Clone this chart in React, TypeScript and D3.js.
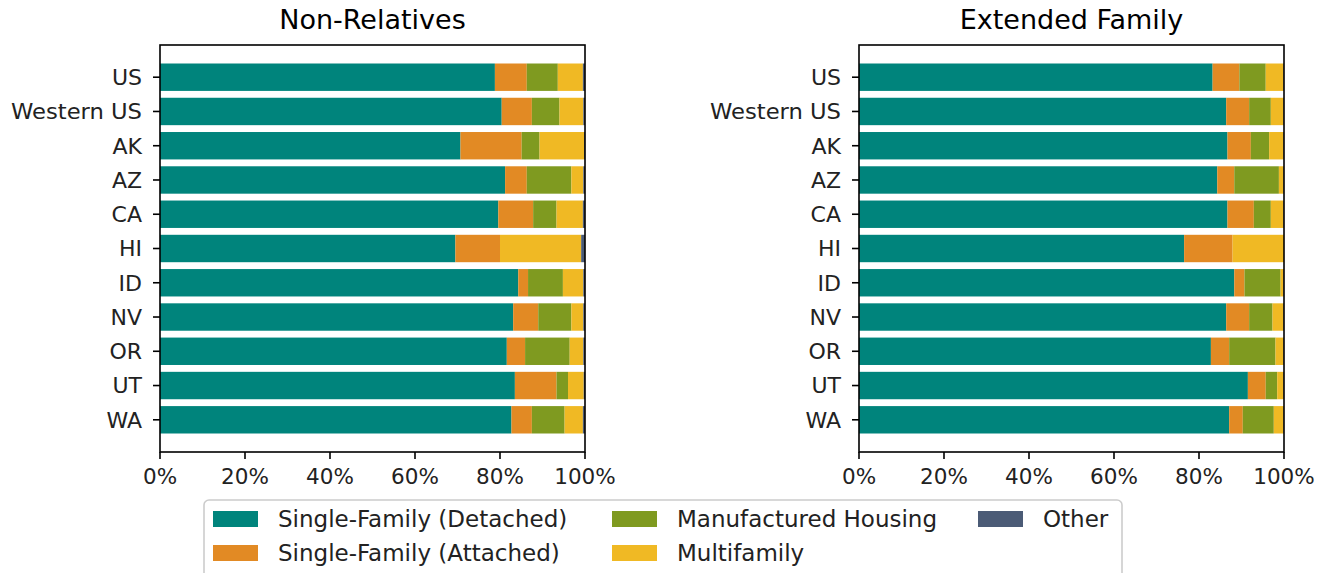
import * as d3 from "d3";

const regions = ["US", "Western US", "AK", "AZ", "CA", "HI", "ID", "NV", "OR", "UT", "WA"];
const seriesNames = [
  "Single-Family (Detached)",
  "Single-Family (Attached)",
  "Manufactured Housing",
  "Multifamily",
  "Other",
];
const seriesColors = ["#00847c", "#e28a24", "#7f9a20", "#f0b924", "#4b5b76"];
const xTicks = [0, 20, 40, 60, 80, 100];

// Non-Relatives, percent of households per housing type
const nonRelDetached = [78.8, 80.4, 70.7, 81.2, 79.6, 69.5, 84.3, 83.1, 81.6, 83.5, 82.7];
const nonRelAttached = [7.5, 7.1, 14.4, 5.1, 8.2, 10.5, 2.3, 5.9, 4.3, 9.8, 4.8];
const nonRelManufactured = [7.3, 6.5, 4.2, 10.5, 5.5, 0.0, 8.2, 7.8, 10.5, 2.7, 7.7];
const nonRelMulti = [5.9, 5.6, 10.5, 2.8, 6.2, 19.1, 4.8, 2.8, 3.2, 3.7, 4.3];
const nonRelOther = [0.5, 0.4, 0.2, 0.4, 0.5, 0.9, 0.4, 0.4, 0.4, 0.3, 0.5];

// Extended Family
const extDetached = [83.2, 86.4, 86.7, 84.3, 86.7, 76.5, 88.3, 86.4, 82.8, 91.5, 87.1];
const extAttached = [6.3, 5.4, 5.5, 4.0, 6.2, 11.4, 2.4, 5.4, 4.3, 4.2, 3.2];
const extManufactured = [6.2, 5.1, 4.3, 10.5, 4.0, 0.0, 8.5, 5.5, 10.9, 2.7, 7.3];
const extMulti = [4.2, 3.0, 3.4, 1.1, 3.0, 12.1, 0.7, 2.6, 1.9, 1.5, 2.3];
const extOther = [0.1, 0.1, 0.1, 0.1, 0.1, 0.0, 0.1, 0.1, 0.1, 0.1, 0.1];

const panels = [
  { title: "Non-Relatives", left: 160, series: [nonRelDetached, nonRelAttached, nonRelManufactured, nonRelMulti, nonRelOther] },
  { title: "Extended Family", left: 859, series: [extDetached, extAttached, extManufactured, extMulti, extOther] },
];

const FONT = "DejaVu Sans, sans-serif";
const plotW = 425;
const top = 45;
const bottom = 452;

function Panel({ title, left, series }: { title: string; left: number; series: number[][] }) {
  const x = d3.scaleLinear().domain([0, 100]).range([left, left + plotW]);
  const y = d3.scaleLinear().domain([-0.94, regions.length - 1 + 0.94]).range([top, bottom]);
  const bh = y(0.8) - y(0);
  const stack = d3.stack<number>().keys(series.map((_, i) => String(i))).value((d, k) => series[+k][d]);
  const stacked = stack(regions.map((_, i) => i));

  return (
    <g>
      <text x={left + plotW / 2} y={29} textAnchor="middle" fontSize={27} fontFamily={FONT} fill="#000">
        {title}
      </text>
      {stacked.map((layer, si) => (
        <g key={si} fill={seriesColors[si]}>
          {layer.map((d, ri) => (
            <rect
              key={ri}
              x={x(d[0])}
              width={Math.max(0, x(d[1]) - x(d[0]))}
              y={y(ri) - bh / 2}
              height={bh}
            />
          ))}
        </g>
      ))}
      <rect x={left} y={top} width={plotW} height={bottom - top} fill="none" stroke="#000" strokeWidth={1.6} />
      {regions.map((r, i) => (
        <g key={r}>
          <line x1={left - 7} x2={left} y1={y(i)} y2={y(i)} stroke="#000" strokeWidth={1.6} />
          <text x={left - 18} y={y(i)} dy="0.36em" textAnchor="end" fontSize={22} fontFamily={FONT} fill="#222"
            textLength={r === "Western US" ? 131 : undefined} lengthAdjust="spacingAndGlyphs">
            {r}
          </text>
        </g>
      ))}
      {xTicks.map((t) => (
        <g key={t}>
          <line x1={x(t)} x2={x(t)} y1={bottom} y2={bottom + 7} stroke="#000" strokeWidth={1.6} />
          <text x={x(t)} y={bottom + 32} textAnchor="middle" fontSize={21.5} fontFamily={FONT} fill="#222">
            {t}%
          </text>
        </g>
      ))}
    </g>
  );
}

const legendCols = [213, 612, 978];

export default function App() {
  return (
    <svg width={1326} height={573} style={{ position: "absolute", left: 0, top: 0, background: "#fff" }}>
      <rect width={1326} height={573} fill="#fff" />
      {panels.map((p) => (
        <Panel key={p.title} {...p} />
      ))}
      <rect x={204} y={500} width={918} height={90} rx={5} fill="#fff" stroke="#cccccc" strokeWidth={1.6} />
      {seriesNames.map((name, i) => {
        const col = Math.floor(i / 2);
        const row = i % 2;
        const lx = legendCols[col];
        const ly = 519 + row * 34;
        return (
          <g key={name}>
            <rect x={lx} y={ly - 8} width={45} height={16} fill={seriesColors[i]} />
            <text x={lx + 65} y={ly} dy="0.36em" fontSize={23} fontFamily={FONT} fill="#222">
              {name}
            </text>
          </g>
        );
      })}
    </svg>
  );
}
